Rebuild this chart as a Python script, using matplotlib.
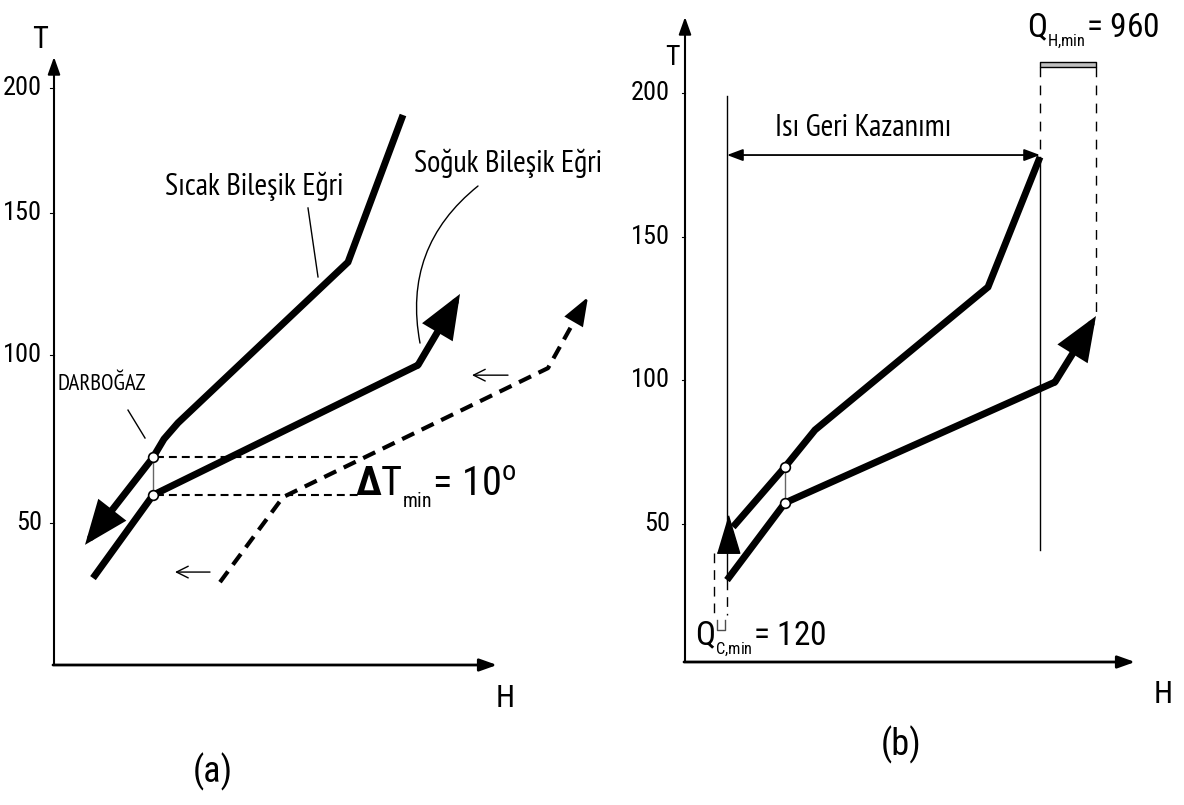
import numpy as np
import matplotlib
matplotlib.use("Agg")
import matplotlib.pyplot as plt

# fonts: narrow Arial-like for numbers/axis letters, Calibri-like for the captions
ARIAL = ["Roboto Condensed", "DejaVu Sans"]
CALIBRI = ["PT Sans Narrow", "Carlito", "DejaVu Sans"]
plt.rcParams["mathtext.fontset"] = "custom"
plt.rcParams["mathtext.rm"] = "Roboto Condensed"
plt.rcParams["mathtext.it"] = "Roboto Condensed"
plt.rcParams["mathtext.bf"] = "Roboto Condensed:bold"

# ---------------- data (H in drawing units, T in degrees) ----------------
t_ticks = [50, 100, 150, 200]
t_labels = ["50", "100", "150", "200"]

# panel (a)
hot_a_H = [349, 294, 124, 110, 99]
hot_a_T = [189.2, 132.7, 79.8, 75.0, 69.5]
hot_a_tip = (31, 43.5)
cold_a_H = [39, 99, 364]
cold_a_T = [33.6, 58.3, 97.0]
cold_a_tip = (406, 121.5)
shift_a_H = [166, 229, 494, 523]
shift_a_T = [32.4, 57.7, 96.1, 113.7]
shift_a_tip = (534, 120.4)
pinch_a_H = 99
pinch_a_T = [69.5, 58.3]
dtmin_end_H = 306

# panel (b)
hot_b_H = [355, 303, 130, 100, 48]
hot_b_T = [177.7, 132.4, 82.6, 69.7, 48.8]
hot_b_head = (43, 46.5)
cold_b_H = [42, 100, 370]
cold_b_T = [30.3, 57.2, 99.3]
cold_b_tip = (411, 122.3)
pinch_b_H = 100
pinch_b_T = [69.7, 57.2]
qc_H = [29, 42]        # Q_C,min = 120 band
qh_H = [355, 411]      # Q_H,min = 960 band
recovery_H = [42, 355]
recovery_T = 178.4

# panel (a) temperature axis is drawn unevenly in the original
a_ref_T = [-50, 0, 50, 100, 150, 200, 250]
a_ref_px = np.array([859, 691, 523, 355, 213, 88, -37])


def fwd(t):
    return np.interp(t, a_ref_T, -a_ref_px)


def inv(u):
    return np.interp(u, -a_ref_px, a_ref_T)


W, H = 1184, 805
fig = plt.figure(figsize=(W / 100, H / 100), dpi=100)
fig.patch.set_facecolor("white")

ax_a = fig.add_axes([54 / W, (H - 665) / H, 443 / W, (665 - 57) / H])
ax_a.set_yscale("function", functions=(fwd, inv))
ax_a.set_xlim(0, 443)
ax_a.set_ylim(7.74, 212.4)

ax_b = fig.add_axes([685 / W, (H - 662) / H, 450 / W, (662 - 17) / H])
ax_b.set_xlim(0, 450)
ax_b.set_ylim(1.75, 226.5)

for ax in (ax_a, ax_b):
    ax.axis("off")

thick = dict(color="black", lw=5, solid_joinstyle="miter", solid_capstyle="butt", clip_on=False)
thin = dict(color="black", lw=1, clip_on=False)
cap = dict(family=CALIBRI)
ring = dict(ms=7, mfc="white", mec="black", mew=1.2, clip_on=False, zorder=6)


def head(ax, tail, tip, size=24, lw=5, hl=0.95, hw=0.38):
    ax.annotate("", xy=tip, xytext=tail, annotation_clip=False,
                arrowprops=dict(arrowstyle=f"-|>,head_length={hl},head_width={hw}",
                                color="black", lw=lw, mutation_scale=size,
                                shrinkA=0, shrinkB=0, joinstyle="miter"))


def axes_arrows(ax, xmax, ymin, ymax):
    style = "-|>,head_length=0.7,head_width=0.25"
    ax.annotate("", xy=(0, ymax), xytext=(0, ymin), annotation_clip=False,
                arrowprops=dict(arrowstyle=style, color="black", lw=1.5,
                                mutation_scale=15, shrinkA=0, shrinkB=0))
    ax.annotate("", xy=(xmax, ymin), xytext=(-1, ymin), annotation_clip=False,
                arrowprops=dict(arrowstyle=style, color="black", lw=2,
                                mutation_scale=15, shrinkA=0, shrinkB=0))


# ================= panel (a) =================
axes_arrows(ax_a, 443, 7.74, 212.4)
for t, lab in zip(t_ticks, t_labels):
    ax_a.plot([-4, 0], [t, t], color="black", lw=0.8, clip_on=False)
    ax_a.text(-12, t, lab, ha="right", va="center", fontsize=19, family=ARIAL)
ax_a.text(-14, 219.2, "T", ha="center", va="center", fontsize=22, family=ARIAL)
ax_a.text(451, -2.1, "H", ha="center", va="center", fontsize=22, family=ARIAL)
ax_a.text(159, -24.1, "(a)", ha="center", va="center", fontsize=26, family=ARIAL)

# hot composite
ax_a.plot(hot_a_H, hot_a_T, **thick)
head(ax_a, (hot_a_H[-1], hot_a_T[-1]), hot_a_tip)
# cold composite
ax_a.plot(cold_a_H, cold_a_T, **thick)
head(ax_a, (cold_a_H[-1], cold_a_T[-1]), cold_a_tip)
# shifted cold composite (dashed)
ax_a.plot(shift_a_H, shift_a_T, color="black", lw=3, dashes=(3.2, 2.0), clip_on=False)
head(ax_a, (shift_a_H[-1], shift_a_T[-1]), shift_a_tip, size=14, lw=2, hl=1.2, hw=0.45)

# dT_min construction
for t in pinch_a_T:
    ax_a.plot([pinch_a_H + 3, dtmin_end_H], [t, t], color="black", lw=1.5,
              dashes=(3.8, 2.4), clip_on=False)
ax_a.plot([pinch_a_H, pinch_a_H], pinch_a_T, color="0.4", lw=1, clip_on=False, zorder=5)
ax_a.plot([pinch_a_H] * 2, pinch_a_T, "o", **ring)

# small direction arrows
for (x0, x1, t) in [(156, 121, 35.4), (454, 418, 94.0)]:
    ax_a.annotate("", xy=(x1, t), xytext=(x0, t), annotation_clip=False,
                  arrowprops=dict(arrowstyle="->,head_length=0.6,head_width=0.3", color="black",
                                  lw=1, mutation_scale=14, shrinkA=0, shrinkB=0))

# labels
ax_a.text(200, 160.8, "Sıcak Bileşik Eğri", ha="center", va="center", fontsize=22, **cap)
ax_a.plot([254, 264], [152, 127.5], **thin)
ax_a.text(454, 170, "Soğuk Bileşik Eğri", ha="center", va="center", fontsize=22, **cap)
ax_a.annotate("", xy=(366, 104.2), xytext=(424, 160.8), annotation_clip=False,
              arrowprops=dict(arrowstyle="-", color="black", lw=1, shrinkA=0, shrinkB=0,
                              connectionstyle="arc3,rad=0.3"))
ax_a.text(48, 91.1, "DARBOĞAZ", ha="center", va="center", fontsize=16.5, **cap)
ax_a.plot([74, 91], [83.6, 75.3], **thin)

ax_a.text(301, 57.7, r"$\mathbf{\Delta}T_{_{min}}$= 10$^o$", ha="left", va="baseline",
          fontsize=29, family=ARIAL)

# ================= panel (b) =================
axes_arrows(ax_b, 450, 1.75, 226.5)
for t, lab in zip(t_ticks, t_labels):
    ax_b.plot([-3, 0], [t, t], color="black", lw=0.8, clip_on=False)
    ax_b.text(-15, t, lab, ha="right", va="center", fontsize=19, family=ARIAL)
ax_b.text(-13, 212.5, "T", ha="center", va="center", fontsize=20, family=ARIAL)
ax_b.text(478, -9.7, "H", ha="center", va="center", fontsize=22, family=ARIAL)
ax_b.text(216, -27.2, "(b)", ha="center", va="center", fontsize=26, family=ARIAL)

# guide lines
ax_b.plot([recovery_H[0]] * 2, [199.0, cold_b_T[0]], **thin)
ax_b.plot([qh_H[0]] * 2, [hot_b_T[0], 40.8], **thin)
ax_b.plot([qh_H[0]] * 2, [209.1, hot_b_T[0]], color="black", lw=1, dashes=(7, 6), clip_on=False)
ax_b.plot([qh_H[1]] * 2, [209.1, cold_b_tip[1] + 1], color="black", lw=1, dashes=(7, 6), clip_on=False)
ax_b.fill_between(qh_H, 209.1, 210.8, facecolor="0.75", edgecolor="black", lw=1, clip_on=False)
ax_b.plot([qc_H[0]] * 2, [39.7, 18.1], color="black", lw=1, dashes=(7, 5), clip_on=False)
ax_b.plot([qc_H[1]] * 2, [cold_b_T[0], 18.1], color="black", lw=1, dashes=(7, 5), clip_on=False)
ax_b.plot([qc_H[0] + 3, qc_H[0] + 3, qc_H[1] - 2, qc_H[1] - 2], [16.5, 12.9, 12.9, 16.5],
          color="0.3", lw=1, clip_on=False)

# heat recovery span
ax_b.annotate("", xy=(recovery_H[1], recovery_T), xytext=(recovery_H[0], recovery_T),
              annotation_clip=False,
              arrowprops=dict(arrowstyle="<|-|>,head_length=0.8,head_width=0.3", color="black",
                              lw=1.3, mutation_scale=12, shrinkA=0, shrinkB=0))
ax_b.text(178, 187.8, "Isı Geri Kazanımı", ha="center", va="center", fontsize=22, **cap)

# composites
ax_b.plot(hot_b_H, hot_b_T, **thick)
ax_b.plot(*hot_b_head, marker=[(-0.6, -1), (0.6, -1), (0, 1)], ms=27, color="black",
          clip_on=False)
ax_b.plot(cold_b_H, cold_b_T, **thick)
head(ax_b, (cold_b_H[-1], cold_b_T[-1]), cold_b_tip)
ax_b.plot([pinch_b_H, pinch_b_H], pinch_b_T, color="0.4", lw=1, clip_on=False, zorder=5)
ax_b.plot([pinch_b_H] * 2, pinch_b_T, "o", **ring)

# minimum utilities
ax_b.text(342, 219.2, r"$Q_{_{H{,}min}}$= 960", ha="left", va="baseline", fontsize=24, family=ARIAL)
ax_b.text(10, 7.3, r"$Q_{_{C{,}min}}$= 120", ha="left", va="baseline", fontsize=24, family=ARIAL)

fig.savefig("out.png", dpi=100, facecolor="white")
